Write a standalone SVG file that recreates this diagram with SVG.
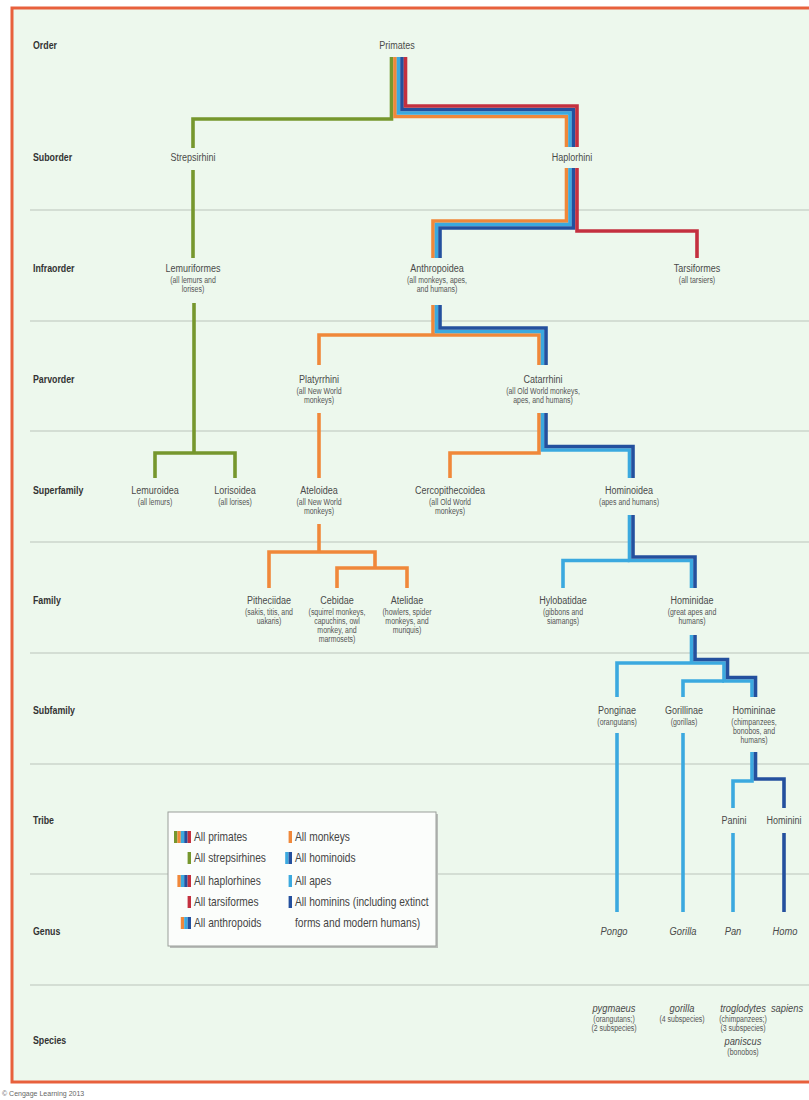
<svg xmlns="http://www.w3.org/2000/svg" width="809" height="1100" viewBox="0 0 809 1100">
<style>
.bg{fill:#edf8ed}
.frame{fill:none;stroke:#e8603c;stroke-width:3}
.sep{stroke:#bcc4bc;stroke-width:1.2}
.s{fill:none;stroke-width:3.6;stroke-linejoin:miter;stroke-linecap:butt}
.g{stroke:#76972d}.o{stroke:#f0883a}.lb{stroke:#3ba9df}.db{stroke:#24509e}.r{stroke:#c4303f}
.fg{fill:#76972d}.fo{fill:#f0883a}.flb{fill:#3ba9df}.fdb{fill:#24509e}.fr{fill:#c4303f}
text{font-family:"Liberation Sans",Arial,sans-serif;transform-box:fill-box}
.row{font-size:11px;fill:#333;font-weight:bold;transform-origin:0% 50%;transform:scaleX(0.8)}
.n{font-size:11px;fill:#4a4a4a;text-anchor:middle;transform-origin:50% 50%;transform:scaleX(0.82)}
.sub{font-size:8.2px;fill:#555;text-anchor:middle;transform-origin:50% 50%;transform:scaleX(0.85)}
.it{font-size:11px;fill:#4a4a4a;text-anchor:middle;font-style:italic;transform-origin:50% 50%;transform:scaleX(0.85)}
.leg{font-size:12px;fill:#444;transform-origin:0% 50%;transform:scaleX(0.85)}
.copy{font-size:7px;fill:#666}
</style>
<rect x="0" y="0" width="809" height="1100" fill="#ffffff"/>
<rect class="bg" x="12" y="8" width="810" height="1074"/>
<rect class="frame" x="12" y="8" width="810" height="1074"/>
<text class="copy" x="2" y="1096">© Cengage Learning 2013</text>

<g id="separators">
<line class="sep" x1="30" y1="210" x2="809" y2="210"/>
<line class="sep" x1="30" y1="321" x2="809" y2="321"/>
<line class="sep" x1="30" y1="431" x2="809" y2="431"/>
<line class="sep" x1="30" y1="542" x2="809" y2="542"/>
<line class="sep" x1="30" y1="653" x2="809" y2="653"/>
<line class="sep" x1="30" y1="764" x2="809" y2="764"/>
<line class="sep" x1="30" y1="874" x2="809" y2="874"/>
<line class="sep" x1="30" y1="985" x2="809" y2="985"/>
</g>

<g id="rank-labels">
<text class="row" x="33" y="49">Order</text>
<text class="row" x="33" y="161">Suborder</text>
<text class="row" x="33" y="272">Infraorder</text>
<text class="row" x="33" y="383">Parvorder</text>
<text class="row" x="33" y="494">Superfamily</text>
<text class="row" x="33" y="604">Family</text>
<text class="row" x="33" y="714">Subfamily</text>
<text class="row" x="33" y="824">Tribe</text>
<text class="row" x="33" y="935">Genus</text>
<text class="row" x="33" y="1044">Species</text>
</g>

<g id="connectors">
<path class="s g" d="M391.5,57 V119 H193 V148"/>
<path class="s o" d="M395,57 V116.5 H566.5 V147"/>
<path class="s lb" d="M398.5,57 V113 H570 V147"/>
<path class="s db" d="M402,57 V109.5 H573.5 V147"/>
<path class="s r" d="M405.5,57 V106 H577 V147"/>

<path class="s o" d="M566.5,168 V221 H433 V258"/>
<path class="s lb" d="M570,168 V224.5 H436.5 V258"/>
<path class="s db" d="M573.5,168 V228 H440 V258"/>
<path class="s r" d="M577,168 V231 H697 V258"/>

<path class="s g" d="M193,170 V258"/>
<path class="s g" d="M194,303 V453"/>
<path class="s g" d="M155,478 V453 H235 V478"/>

<path class="s o" d="M433,305 V335"/>
<path class="s o" d="M319,365 V335 H539 V365"/>
<path class="s lb" d="M436.5,305 V331.5 H542.5 V365"/>
<path class="s db" d="M440,305 V328 H546 V365"/>

<path class="s o" d="M319,413 V478"/>
<path class="s o" d="M319,524 V552"/>
<path class="s o" d="M269,588 V552 H375 V568"/>
<path class="s o" d="M337,588 V568 H407 V588"/>

<path class="s o" d="M539,413 V453 H450 V478"/>
<path class="s lb" d="M542.5,413 V450 H629.5 V478"/>
<path class="s db" d="M546,413 V446.5 H633 V478"/>

<path class="s lb" d="M629.5,515 V560.5 H691.5 V588"/>
<path class="s lb" d="M563,588 V560.5 H629.5"/>
<path class="s db" d="M633,515 V557 H695 V588"/>

<path class="s lb" d="M691.5,635 V663"/>
<path class="s lb" d="M617,697 V663 H724 V681 H752 V697"/>
<path class="s lb" d="M683,697 V681 H724"/>
<path class="s db" d="M695,635 V659.5 H727.5 V677.5 H755.5 V697"/>

<path class="s lb" d="M752,752 V781 H733 V808"/>
<path class="s db" d="M755.5,752 V779 H784 V808"/>

<path class="s lb" d="M617,733 V912"/>
<path class="s lb" d="M683,733 V912"/>
<path class="s lb" d="M733,833 V912"/>
<path class="s db" d="M784,833 V912"/>
</g>

<g id="node-primates"><text class="n" x="397" y="49">Primates</text></g>
<g id="node-strepsirhini"><text class="n" x="193" y="161">Strepsirhini</text></g>
<g id="node-haplorhini"><text class="n" x="572" y="161">Haplorhini</text></g>
<g id="node-lemuriformes"><text class="n" x="193" y="272">Lemuriformes</text><text class="sub" x="193" y="283">(all lemurs and</text><text class="sub" x="193" y="292">lorises)</text></g>
<g id="node-anthropoidea"><text class="n" x="437" y="272">Anthropoidea</text><text class="sub" x="437" y="283">(all monkeys, apes,</text><text class="sub" x="437" y="292">and humans)</text></g>
<g id="node-tarsiformes"><text class="n" x="697" y="272">Tarsiformes</text><text class="sub" x="697" y="283">(all tarsiers)</text></g>
<g id="node-platyrrhini"><text class="n" x="319" y="383">Platyrrhini</text><text class="sub" x="319" y="394">(all New World</text><text class="sub" x="319" y="403">monkeys)</text></g>
<g id="node-catarrhini"><text class="n" x="543" y="383">Catarrhini</text><text class="sub" x="543" y="394">(all Old World monkeys,</text><text class="sub" x="543" y="403">apes, and humans)</text></g>
<g id="node-lemuroidea"><text class="n" x="155" y="494">Lemuroidea</text><text class="sub" x="155" y="505">(all lemurs)</text></g>
<g id="node-lorisoidea"><text class="n" x="235" y="494">Lorisoidea</text><text class="sub" x="235" y="505">(all lorises)</text></g>
<g id="node-ateloidea"><text class="n" x="319" y="494">Ateloidea</text><text class="sub" x="319" y="505">(all New World</text><text class="sub" x="319" y="514">monkeys)</text></g>
<g id="node-cercopithecoidea"><text class="n" x="450" y="494">Cercopithecoidea</text><text class="sub" x="450" y="505">(all Old World</text><text class="sub" x="450" y="514">monkeys)</text></g>
<g id="node-hominoidea"><text class="n" x="629" y="494">Hominoidea</text><text class="sub" x="629" y="505">(apes and humans)</text></g>
<g id="node-pitheciidae"><text class="n" x="269" y="604">Pitheciidae</text><text class="sub" x="269" y="615">(sakis, titis, and</text><text class="sub" x="269" y="624">uakaris)</text></g>
<g id="node-cebidae"><text class="n" x="337" y="604">Cebidae</text><text class="sub" x="337" y="615">(squirrel monkeys,</text><text class="sub" x="337" y="624">capuchins, owl</text><text class="sub" x="337" y="633">monkey, and</text><text class="sub" x="337" y="642">marmosets)</text></g>
<g id="node-atelidae"><text class="n" x="407" y="604">Atelidae</text><text class="sub" x="407" y="615">(howlers, spider</text><text class="sub" x="407" y="624">monkeys, and</text><text class="sub" x="407" y="633">muriquis)</text></g>
<g id="node-hylobatidae"><text class="n" x="563" y="604">Hylobatidae</text><text class="sub" x="563" y="615">(gibbons and</text><text class="sub" x="563" y="624">siamangs)</text></g>
<g id="node-hominidae"><text class="n" x="692" y="604">Hominidae</text><text class="sub" x="692" y="615">(great apes and</text><text class="sub" x="692" y="624">humans)</text></g>
<g id="node-ponginae"><text class="n" x="617" y="714">Ponginae</text><text class="sub" x="617" y="725">(orangutans)</text></g>
<g id="node-gorillinae"><text class="n" x="684" y="714">Gorillinae</text><text class="sub" x="684" y="725">(gorillas)</text></g>
<g id="node-homininae"><text class="n" x="754" y="714">Homininae</text><text class="sub" x="754" y="725">(chimpanzees,</text><text class="sub" x="754" y="734">bonobos, and</text><text class="sub" x="754" y="743">humans)</text></g>
<g id="node-panini"><text class="n" x="734" y="824">Panini</text></g>
<g id="node-hominini"><text class="n" x="784" y="824">Hominini</text></g>
<g id="node-pongo"><text class="it" x="614" y="935">Pongo</text></g>
<g id="node-gorilla"><text class="it" x="683" y="935">Gorilla</text></g>
<g id="node-pan"><text class="it" x="733" y="935">Pan</text></g>
<g id="node-homo"><text class="it" x="785" y="935">Homo</text></g>
<g id="node-pygmaeus"><text class="it" x="614" y="1012">pygmaeus</text><text class="sub" x="614" y="1022">(orangutans;)</text><text class="sub" x="614" y="1031">(2 subspecies)</text></g>
<g id="node-gorilla-sp"><text class="it" x="682" y="1012">gorilla</text><text class="sub" x="682" y="1022">(4 subspecies)</text></g>
<g id="node-troglodytes"><text class="it" x="743" y="1012">troglodytes</text><text class="sub" x="743" y="1022">(chimpanzees;)</text><text class="sub" x="743" y="1031">(3 subspecies)</text><text class="it" x="743" y="1045">paniscus</text><text class="sub" x="743" y="1055">(bonobos)</text></g>
<g id="node-sapiens"><text class="it" x="787" y="1012">sapiens</text></g>

<g id="legend">
<rect x="170" y="814" width="268" height="134" fill="#b8bcb8"/>
<rect x="168" y="812" width="268" height="134" fill="#fbfdfb" stroke="#9a9e9a" stroke-width="1"/>
<rect class="fg" x="174" y="831" width="3.4" height="12"/><rect class="fo" x="177.4" y="831" width="3.4" height="12"/><rect class="flb" x="180.8" y="831" width="3.4" height="12"/><rect class="fdb" x="184.2" y="831" width="3.4" height="12"/><rect class="fr" x="187.6" y="831" width="3.4" height="12"/>
<text class="leg" x="194" y="841">All primates</text>
<rect class="fg" x="187.6" y="852" width="3.4" height="12"/>
<text class="leg" x="194" y="862">All strepsirhines</text>
<rect class="fo" x="177.4" y="875" width="3.4" height="12"/><rect class="flb" x="180.8" y="875" width="3.4" height="12"/><rect class="fdb" x="184.2" y="875" width="3.4" height="12"/><rect class="fr" x="187.6" y="875" width="3.4" height="12"/>
<text class="leg" x="194" y="885">All haplorhines</text>
<rect class="fr" x="187.6" y="896" width="3.4" height="12"/>
<text class="leg" x="194" y="906">All tarsiformes</text>
<rect class="fo" x="180.8" y="917" width="3.4" height="12"/><rect class="flb" x="184.2" y="917" width="3.4" height="12"/><rect class="fdb" x="187.6" y="917" width="3.4" height="12"/>
<text class="leg" x="194" y="927">All anthropoids</text>
<rect class="fo" x="288.6" y="831" width="3.4" height="12"/>
<text class="leg" x="295" y="841">All monkeys</text>
<rect class="flb" x="285.2" y="852" width="3.4" height="12"/><rect class="fdb" x="288.6" y="852" width="3.4" height="12"/>
<text class="leg" x="295" y="862">All hominoids</text>
<rect class="flb" x="288.6" y="875" width="3.4" height="12"/>
<text class="leg" x="295" y="885">All apes</text>
<rect class="fdb" x="288.6" y="896" width="3.4" height="12"/>
<text class="leg" x="295" y="906">All hominins (including extinct</text>
<text class="leg" x="295" y="927">forms and modern humans)</text>
</g>
</svg>
